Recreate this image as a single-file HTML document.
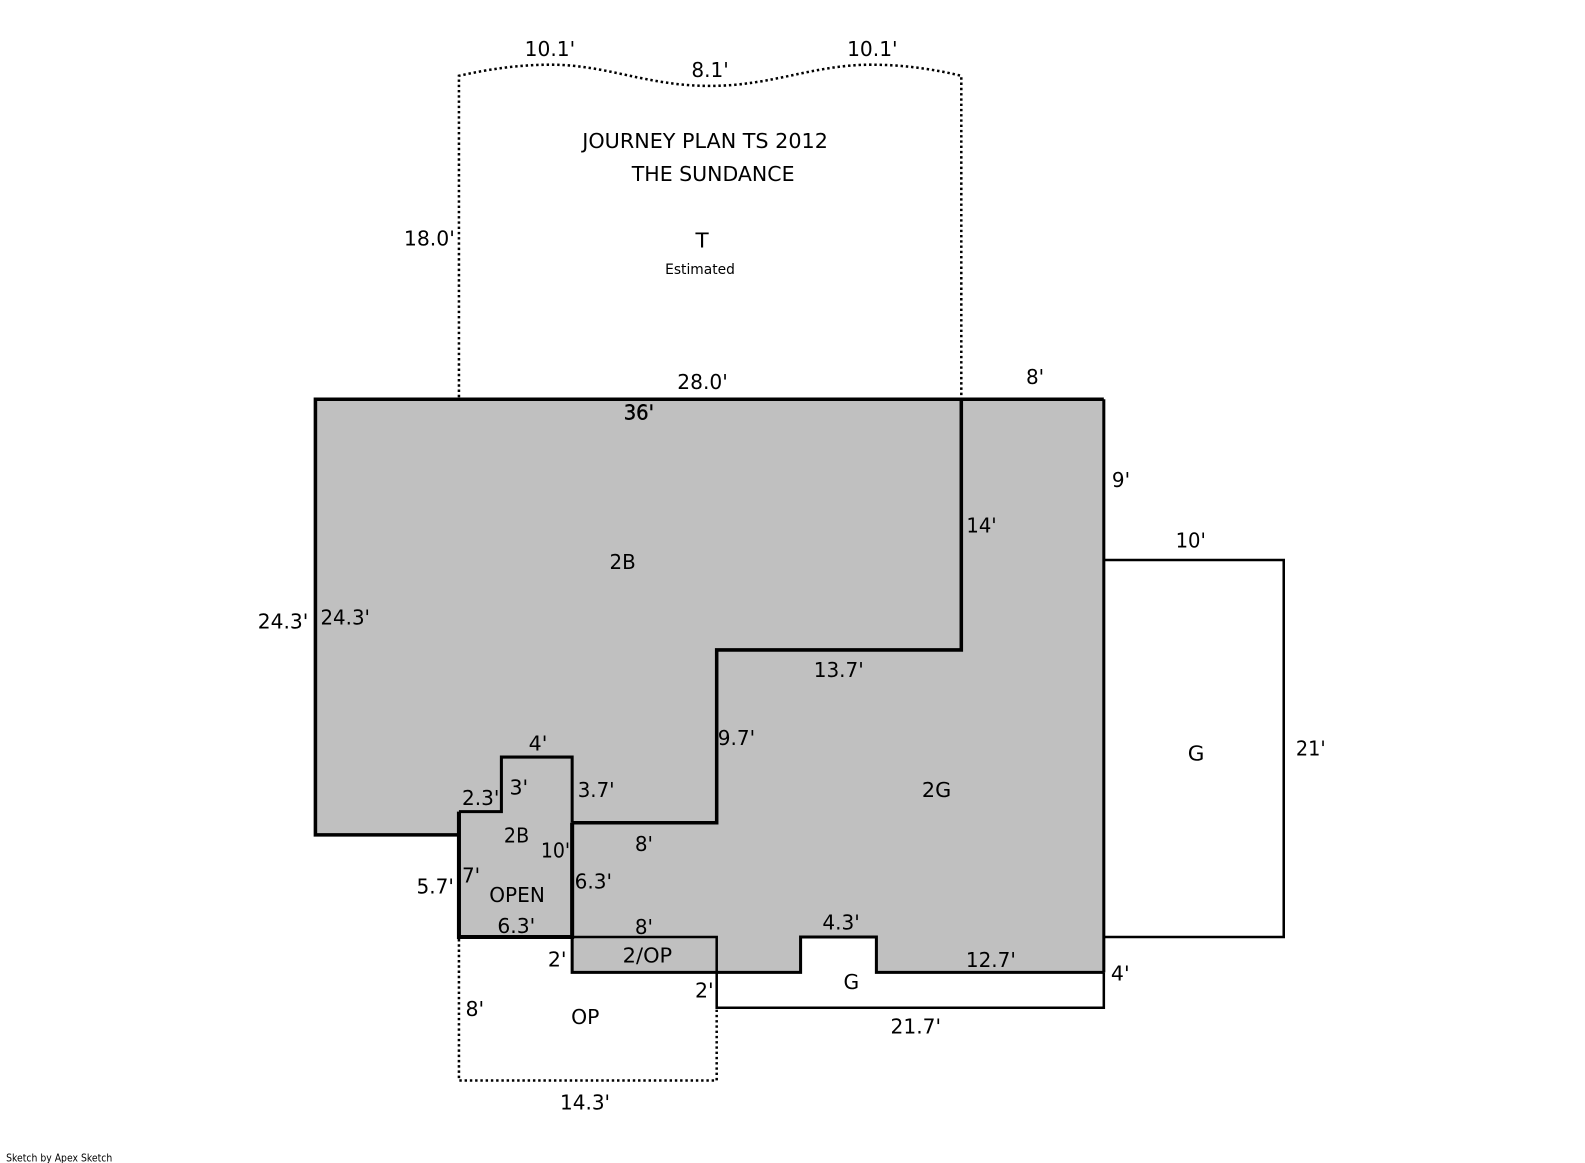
<!DOCTYPE html>
<html><head><meta charset="utf-8"><style>
html,body{margin:0;padding:0;background:#fff;width:1585px;height:1163px;overflow:hidden}
svg{display:block}
text{font-family:"DejaVu Sans","Liberation Sans",sans-serif;font-size:20px;fill:#000}
</style></head><body>
<svg width="1585" height="1163" viewBox="0 0 1568 1150.6" xmlns="http://www.w3.org/2000/svg">
<rect x="0" y="0" width="1568" height="1151" fill="#fff"/>
<path d="M312 395H1092V962H867V927H792V962H566V927H454V826H312Z" fill="#c0c0c0"/>
<g fill="none" stroke="#000" stroke-width="2.5" stroke-dasharray="2.4 2.8">
<path d="M454 393V75C485 68 515 64 545 64C600 64 640 85 702 85C764 85 804 64 862 64C892 64 922 68 951 75V393"/>
<path d="M454 929V1069H709V999"/>
</g>
<g fill="none" stroke="#000" stroke-linejoin="miter">
<path d="M1092 554H1270V927H1092" stroke-width="2.5"/>
<path d="M566 927H709V962M709 962V997H1092V962" stroke-width="2.5"/>
<path d="M566 927V962H792V927H867V962H1092" stroke-width="3"/>
<path d="M1092 395V962" stroke-width="3"/>
<path d="M951 395V643H709V814H566" stroke-width="3.5"/>
<path d="M566 814V749H496V803H454" stroke-width="3"/>
<path d="M454 803V927H566V814" stroke-width="4"/>
<path d="M454 826H312V395H1092" stroke-width="3.5"/>
</g>
<g>
<text x="519" y="55.5" textLength="50" lengthAdjust="spacingAndGlyphs">10.1'</text>
<text x="684" y="76" textLength="37" lengthAdjust="spacingAndGlyphs">8.1'</text>
<text x="838" y="55.5" textLength="50" lengthAdjust="spacingAndGlyphs">10.1'</text>
<text x="576" y="146.5" textLength="243" lengthAdjust="spacingAndGlyphs">JOURNEY PLAN TS 2012</text>
<text x="625" y="179" textLength="161" lengthAdjust="spacingAndGlyphs">THE SUNDANCE</text>
<text x="688" y="245" textLength="13" lengthAdjust="spacingAndGlyphs">T</text>
<text x="658" y="271" textLength="69" lengthAdjust="spacingAndGlyphs" style="font-size:14px">Estimated</text>
<text x="399.5" y="243" textLength="50.5" lengthAdjust="spacingAndGlyphs">18.0'</text>
<text x="670" y="385" textLength="50" lengthAdjust="spacingAndGlyphs">28.0'</text>
<text x="1015" y="380" textLength="18" lengthAdjust="spacingAndGlyphs">8'</text>
<text x="617" y="415" textLength="30" lengthAdjust="spacingAndGlyphs" stroke="#000" stroke-width="0.4">36'</text>
<text x="1100" y="482" textLength="18" lengthAdjust="spacingAndGlyphs">9'</text>
<text x="956" y="527" textLength="30" lengthAdjust="spacingAndGlyphs">14'</text>
<text x="1163" y="541.5" textLength="30" lengthAdjust="spacingAndGlyphs">10'</text>
<text x="603" y="563" textLength="26" lengthAdjust="spacingAndGlyphs">2B</text>
<text x="255" y="622" textLength="50" lengthAdjust="spacingAndGlyphs">24.3'</text>
<text x="317" y="618" textLength="49" lengthAdjust="spacingAndGlyphs">24.3'</text>
<text x="805" y="670" textLength="49.5" lengthAdjust="spacingAndGlyphs">13.7'</text>
<text x="1175" y="752.5" textLength="16.5" lengthAdjust="spacingAndGlyphs">G</text>
<text x="1282" y="747.5" textLength="29.5" lengthAdjust="spacingAndGlyphs">21'</text>
<text x="710" y="737" textLength="37" lengthAdjust="spacingAndGlyphs">9.7'</text>
<text x="523" y="742.5" textLength="18.5" lengthAdjust="spacingAndGlyphs">4'</text>
<text x="504" y="786" textLength="18.5" lengthAdjust="spacingAndGlyphs">3'</text>
<text x="457" y="796.5" textLength="37" lengthAdjust="spacingAndGlyphs">2.3'</text>
<text x="571.5" y="788.5" textLength="36.5" lengthAdjust="spacingAndGlyphs">3.7'</text>
<text x="498.5" y="833.5" textLength="25" lengthAdjust="spacingAndGlyphs">2B</text>
<text x="535" y="848.5" textLength="29" lengthAdjust="spacingAndGlyphs">10'</text>
<text x="628" y="842" textLength="18" lengthAdjust="spacingAndGlyphs">8'</text>
<text x="457" y="873" textLength="18" lengthAdjust="spacingAndGlyphs">7'</text>
<text x="568.5" y="879" textLength="37" lengthAdjust="spacingAndGlyphs">6.3'</text>
<text x="412" y="884" textLength="37" lengthAdjust="spacingAndGlyphs">5.7'</text>
<text x="484" y="892.5" textLength="55" lengthAdjust="spacingAndGlyphs">OPEN</text>
<text x="492" y="923" textLength="37.5" lengthAdjust="spacingAndGlyphs">6.3'</text>
<text x="628" y="924" textLength="18" lengthAdjust="spacingAndGlyphs">8'</text>
<text x="616" y="952" textLength="49" lengthAdjust="spacingAndGlyphs">2/OP</text>
<text x="542" y="956" textLength="18.5" lengthAdjust="spacingAndGlyphs">2'</text>
<text x="687.5" y="987" textLength="18.5" lengthAdjust="spacingAndGlyphs">2'</text>
<text x="460.5" y="1005" textLength="18.5" lengthAdjust="spacingAndGlyphs">8'</text>
<text x="565" y="1013" textLength="28" lengthAdjust="spacingAndGlyphs">OP</text>
<text x="834.5" y="978.5" textLength="15.5" lengthAdjust="spacingAndGlyphs">G</text>
<text x="813.5" y="919.5" textLength="37" lengthAdjust="spacingAndGlyphs">4.3'</text>
<text x="955.5" y="956.5" textLength="49.5" lengthAdjust="spacingAndGlyphs">12.7'</text>
<text x="1099" y="970" textLength="18.5" lengthAdjust="spacingAndGlyphs">4'</text>
<text x="881" y="1022.5" textLength="50" lengthAdjust="spacingAndGlyphs">21.7'</text>
<text x="554" y="1097.5" textLength="49.5" lengthAdjust="spacingAndGlyphs">14.3'</text>
<text x="912" y="788.5" textLength="29" lengthAdjust="spacingAndGlyphs">2G</text>
<text x="6" y="1149" textLength="105" lengthAdjust="spacingAndGlyphs" style="font-size:10.5px">Sketch by Apex Sketch</text>
</g>
</svg>
</body></html>
